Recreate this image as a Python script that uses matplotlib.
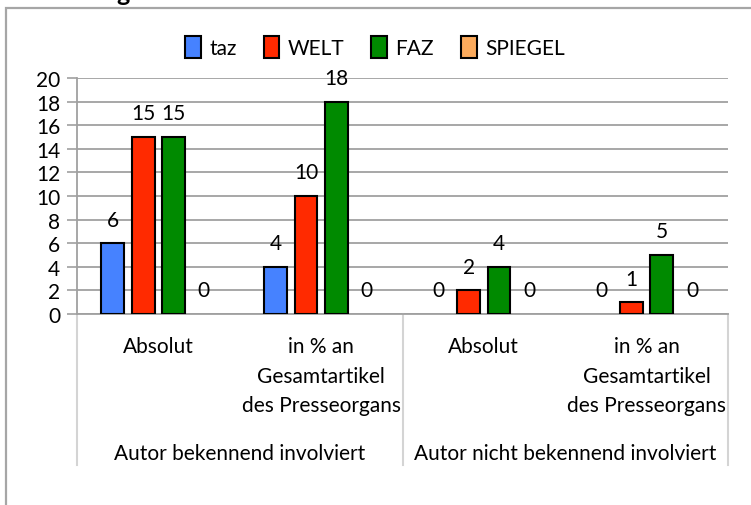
import matplotlib
matplotlib.use('Agg')
import matplotlib.pyplot as plt
from matplotlib.patches import Rectangle
from matplotlib.lines import Line2D
import numpy as np

# daten
gruppen = ['Autor bekennend involviert', 'Autor nicht bekennend involviert']
kategorien = ['Absolut', 'in % an\nGesamtartikel\ndes Presseorgans',
              'Absolut', 'in % an\nGesamtartikel\ndes Presseorgans']
zeitungen = ['taz', 'WELT', 'FAZ', 'SPIEGEL']
taz = [6, 4, 0, 0]
welt = [15, 10, 2, 1]
faz = [15, 18, 4, 5]
spiegel = [0, 0, 0, 0]
farben = ['#4682ff', '#ff2a00', '#008a00', '#fbaa5c']

plt.rcParams['font.family'] = ['Lato', 'DejaVu Sans']
fs = 15

W, H = 751, 506
fig = plt.figure(figsize=(W / 100, H / 100), dpi=100)
fig.patch.set_facecolor('white')

# aeusserer rahmen
fig.add_artist(Rectangle((6 / W, -0.1), 1.2, (H - 9) / H + 0.1,
                         transform=fig.transFigure, fill=False,
                         edgecolor='#a6a6a6', linewidth=1.6))
# abgeschnittener titel (im original oben abgeschnitten)
fig.text(116 / W, (H - 1) / H, 'g', fontsize=18, fontweight='bold',
         va='baseline', ha='left')

ax = fig.add_axes([77 / W, (H - 315) / H, (728 - 77) / W, 236 / H])

x = np.arange(len(kategorien))
breite = 0.141
schritt = 0.186
for i, (name, werte) in enumerate(zip(zeitungen, [taz, welt, faz, spiegel])):
    pos = x + (i - 1.5) * schritt
    lw = [1.5 if v > 0 else 0 for v in werte]
    ax.bar(pos, werte, breite, color=farben[i], edgecolor='black',
           linewidth=lw, label=name, zorder=3)
    for p, v in zip(pos, werte):
        ax.annotate(str(v), (p, v), xytext=(0, 17), textcoords='offset points',
                    ha='center', va='center', fontsize=fs)

ax.set_xlim(-0.5, 3.5)
ax.set_ylim(0, 20)
ax.set_yticks(range(0, 21, 2))
ax.yaxis.grid(True, color='#a0a0a0', linewidth=1.3, zorder=0)
ax.tick_params(axis='y', length=7, width=1.2, color='#a0a0a0',
               labelsize=fs, pad=5)
ax.set_xticks([])
for s in ['top', 'right']:
    ax.spines[s].set_visible(False)
for s in ['left', 'bottom']:
    ax.spines[s].set_color('#a0a0a0')
    ax.spines[s].set_linewidth(1.3)

# kategorien-beschriftung
trans = ax.get_xaxis_transform()
for xi, lab in zip(x, kategorien):
    ax.annotate(lab, (xi, 0), xycoords=trans, xytext=(0, -16),
                textcoords='offset points', ha='center', va='top',
                fontsize=fs, linespacing=1.6)
for gi, lab in enumerate(gruppen):
    ax.annotate(lab, (2 * gi + 0.5, 0), xycoords=trans, xytext=(0, -93),
                textcoords='offset points', ha='center', va='top',
                fontsize=fs)
unten = -(466 - 315) / 236
for xl in [-0.5, 1.5, 3.5]:
    ax.add_line(Line2D([xl, xl], [0, unten], transform=trans,
                       color='#d4d4d4', linewidth=1.5, clip_on=False))

leg = ax.legend(loc='center', bbox_to_anchor=(375 / W, (H - 48) / H),
                bbox_transform=fig.transFigure, ncol=4, frameon=False,
                fontsize=fs, handlelength=0.75, handleheight=1.3,
                handletextpad=0.4, columnspacing=1.3)
for h in leg.legend_handles:
    h.set_linewidth(1.5)

fig.savefig('out.png', dpi=100)
